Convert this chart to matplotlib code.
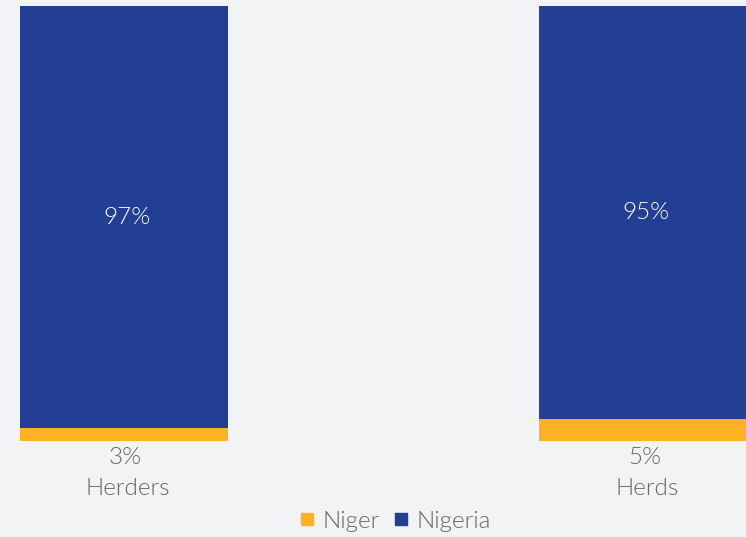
import matplotlib
matplotlib.use("Agg")
import matplotlib.pyplot as plt
from matplotlib.lines import Line2D

categories = ["Herders", "Herds"]
niger = [3, 5]
nigeria = [97, 95]

series_names = ["Niger", "Nigeria"]
colors = {"Niger": "#fdb123", "Nigeria": "#233f93"}
bg = "#f2f3f5"
text_color = "#666666"

plt.rcParams["font.family"] = ["Lato", "DejaVu Sans"]

fig = plt.figure(figsize=(7.46, 5.37), dpi=100, facecolor=bg)
ax = fig.add_axes([0.0, 0.1788, 1.0, 0.8091])
ax.set_facecolor(bg)

x = list(range(len(categories)))
width = 0.4
ax.bar(x, niger, width=width, color=colors["Niger"])
ax.bar(x, nigeria, width=width, bottom=niger, color=colors["Nigeria"])

ax.set_xlim(-0.239, 1.198)
ax.set_ylim(0, 100)
for s in ax.spines.values():
    s.set_visible(False)
ax.set_xticks([])
ax.set_yticks([])

fs = 17.5
wt = 300
for xi, a, b, cat in zip(x, niger, nigeria, categories):
    ax.text(xi + 0.005, a + b / 2, f"{b}%", ha="center", va="center",
            color="white", fontsize=fs, fontweight=wt)
    ax.annotate(f"{a}%", xy=(xi, 0), xytext=(1, -12), textcoords="offset points",
                ha="center", va="center", color=text_color, fontsize=fs,
                fontweight=wt, annotation_clip=False)
    ax.annotate(cat, xy=(xi, 0), xytext=(3, -34), textcoords="offset points",
                ha="center", va="center", color=text_color, fontsize=fs,
                fontweight=wt, annotation_clip=False)

handles = [Line2D([], [], marker="s", linestyle="none", markersize=9,
                  markerfacecolor=colors[n], markeredgecolor=colors[n])
           for n in series_names]
fig.legend(handles, series_names, loc="center", bbox_to_anchor=(0.529, 0.029),
           ncol=2, frameon=False, handlelength=0.7, handletextpad=0.3,
           columnspacing=0.5, labelcolor=text_color,
           prop={"size": fs, "weight": wt})

fig.savefig("out.png", dpi=100, facecolor=bg)
